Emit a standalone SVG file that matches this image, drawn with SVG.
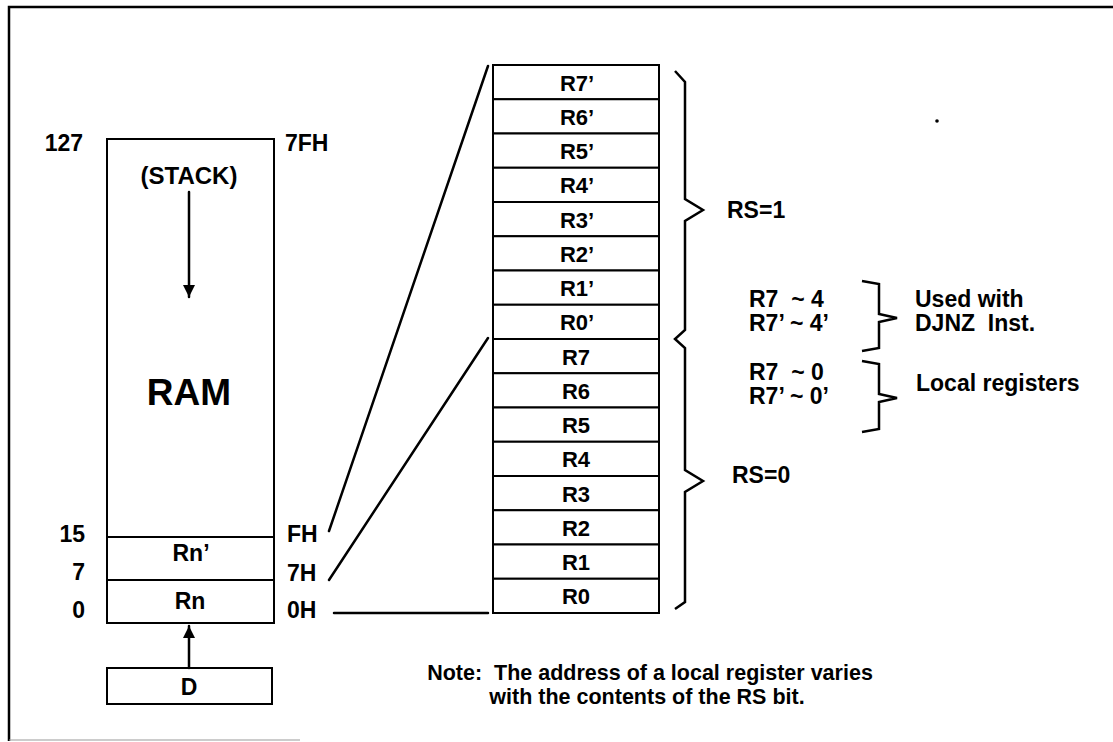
<svg xmlns="http://www.w3.org/2000/svg" width="1113" height="742" viewBox="0 0 1113 742">
<style>
.t{font-family:"Liberation Sans",Arial,Helvetica,sans-serif;font-weight:bold;font-size:23px;fill:#000;white-space:pre}
.r{font-size:22px}
.c{text-anchor:middle}
.e{text-anchor:end}
.n{font-size:21.5px}
.big{font-size:37px}
.box{fill:#fff;stroke:#000;stroke-width:2}
.ln{fill:none;stroke:#000;stroke-width:2.5;stroke-linecap:round}
.br{fill:none;stroke:#000;stroke-width:2.5;stroke-linejoin:miter}
</style>
<defs>
<marker id="ah" viewBox="0 0 10 10" refX="10" refY="5" markerWidth="14" markerHeight="12" markerUnits="userSpaceOnUse" orient="auto">
<path d="M0,0 L10,5 L0,10 Z" fill="#000"/>
</marker>
</defs>
<rect x="0" y="0" width="1113" height="742" fill="#fff"/>
<g id="frame">
<path d="M9,741 L9,7 L1113,7" fill="none" stroke="#000" stroke-width="2.5"/>
<path d="M9,740 L300,740" fill="none" stroke="#999" stroke-width="1"/>
<circle cx="937" cy="121" r="1.8" fill="#000"/>
</g>
<g id="ram">
<rect class="box" x="107" y="139" width="167" height="484"/>
<line x1="107" y1="537" x2="274" y2="537" stroke="#000" stroke-width="2"/>
<line x1="107" y1="580" x2="274" y2="580" stroke="#000" stroke-width="2"/>
<text class="t c" x="189" y="184" style="font-size:24px">(STACK)</text>
<text class="t c big" x="189" y="405">RAM</text>
<text class="t c" x="191" y="561">Rn’</text>
<text class="t c" x="190" y="609">Rn</text>
</g>
<g id="addr-left">
<text class="t e" x="83" y="151">127</text>
<text class="t e" x="85" y="542">15</text>
<text class="t e" x="85" y="580">7</text>
<text class="t e" x="85" y="618">0</text>
</g>
<g id="addr-right">
<text class="t" x="285" y="151">7FH</text>
<text class="t" x="287" y="542">FH</text>
<text class="t" x="287" y="581">7H</text>
<text class="t" x="287" y="618">0H</text>
</g>
<g id="d">
<rect class="box" x="107" y="668" width="165" height="36"/>
<text class="t c" x="189" y="695">D</text>
</g>
<g id="registers">
<g id="r7p"><rect class="box" x="493" y="65" width="166" height="34.25"/><text class="t c r" x="577" y="90.5">R7’</text></g>
<g id="r6p"><rect class="box" x="493" y="99.25" width="166" height="34.25"/><text class="t c r" x="577" y="124.75">R6’</text></g>
<g id="r5p"><rect class="box" x="493" y="133.5" width="166" height="34.25"/><text class="t c r" x="577" y="159">R5’</text></g>
<g id="r4p"><rect class="box" x="493" y="167.75" width="166" height="34.25"/><text class="t c r" x="577" y="193.25">R4’</text></g>
<g id="r3p"><rect class="box" x="493" y="202" width="166" height="34.25"/><text class="t c r" x="577" y="227.5">R3’</text></g>
<g id="r2p"><rect class="box" x="493" y="236.25" width="166" height="34.25"/><text class="t c r" x="577" y="261.75">R2’</text></g>
<g id="r1p"><rect class="box" x="493" y="270.5" width="166" height="34.25"/><text class="t c r" x="577" y="296">R1’</text></g>
<g id="r0p"><rect class="box" x="493" y="304.75" width="166" height="34.25"/><text class="t c r" x="577" y="330.25">R0’</text></g>
<g id="r7"><rect class="box" x="493" y="339" width="166" height="34.25"/><text class="t c r" x="576" y="364.5">R7</text></g>
<g id="r6"><rect class="box" x="493" y="373.25" width="166" height="34.25"/><text class="t c r" x="576" y="398.75">R6</text></g>
<g id="r5"><rect class="box" x="493" y="407.5" width="166" height="34.25"/><text class="t c r" x="576" y="433">R5</text></g>
<g id="r4"><rect class="box" x="493" y="441.75" width="166" height="34.25"/><text class="t c r" x="576" y="467.25">R4</text></g>
<g id="r3"><rect class="box" x="493" y="476" width="166" height="34.25"/><text class="t c r" x="576" y="501.5">R3</text></g>
<g id="r2"><rect class="box" x="493" y="510.25" width="166" height="34.25"/><text class="t c r" x="576" y="535.75">R2</text></g>
<g id="r1"><rect class="box" x="493" y="544.5" width="166" height="34.25"/><text class="t c r" x="576" y="570">R1</text></g>
<g id="r0"><rect class="box" x="493" y="578.75" width="166" height="34.25"/><text class="t c r" x="576" y="604.25">R0</text></g>
</g>
<g id="connectors">
<line class="ln" x1="189" y1="192" x2="189" y2="297" marker-end="url(#ah)"/>
<line class="ln" x1="189" y1="668" x2="189" y2="626" marker-end="url(#ah)"/>
<line class="ln" x1="329" y1="531" x2="488" y2="66"/>
<line class="ln" x1="329" y1="580" x2="488" y2="338"/>
<line class="ln" x1="334" y1="613" x2="488" y2="613"/>
</g>
<g id="braces">
<path class="br" d="M675,71 L685,82 L685,199 L703,210 L685,221 L685,330 L675,339 L685,348 L685,470 L703,481 L685,492 L685,602 L675,609"/>
<path class="br" d="M862,281 L879,284 L879,314 L897,318 L879,322 L879,348 L862,351"/>
<path class="br" d="M862,361 L879,364 L879,394 L897,398 L879,402 L879,429 L862,432"/>
</g>
<g id="labels">
<text class="t" x="727" y="218">RS=1</text>
<text class="t" x="732" y="483">RS=0</text>
<text class="t" x="749" y="307">R7  ~ 4</text>
<text class="t" x="749" y="331">R7’ ~ 4’</text>
<text class="t" x="749" y="380">R7  ~ 0</text>
<text class="t" x="749" y="404">R7’ ~ 0’</text>
<text class="t" x="915" y="307">Used with</text>
<text class="t" x="915" y="331">DJNZ  Inst.</text>
<text class="t" x="916" y="391">Local registers</text>
</g>
<g id="note">
<text class="t c n" x="650" y="680">Note:  The address of a local register varies</text>
<text class="t c n" x="647" y="704">with the contents of the RS bit.</text>
</g>
</svg>
